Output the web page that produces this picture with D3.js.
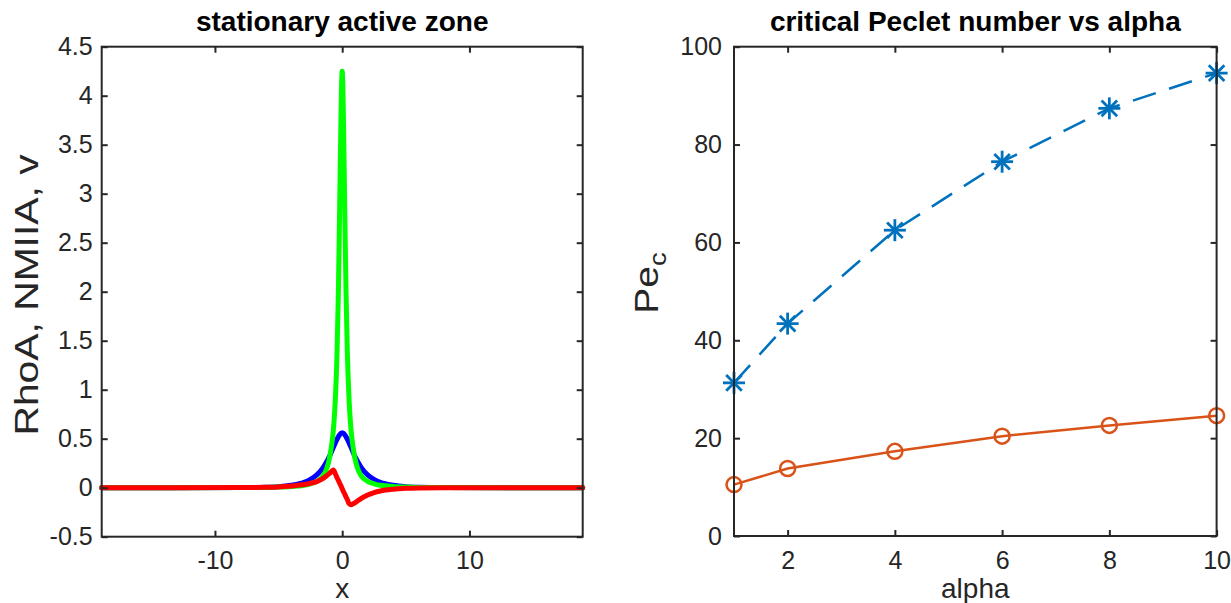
<!DOCTYPE html>
<html><head><meta charset="utf-8">
<script src="https://cdn.jsdelivr.net/npm/d3@7"></script>
<style>
html,body{margin:0;padding:0;background:#fff;}
svg{display:block;font-family:"Liberation Sans",Arial,sans-serif;}
</style></head>
<body>
<svg id="c" width="1231" height="603"></svg>
<script>
// ---- Left panel data: stationary active zone ----
const xs = [-18.9, -8, -6, -5, -4, -3, -2.5, -2, -1.5, -1.2, -1, -0.85, -0.7, -0.55, -0.4, -0.3, -0.2, -0.1, -0.05, 0, 0.05, 0.1, 0.2, 0.3, 0.4, 0.55, 0.7, 0.85, 1, 1.2, 1.5, 2, 2.5, 3, 4, 5, 6, 8, 18.9];
const rhoA = [0, 0.001, 0.005, 0.011, 0.025, 0.055, 0.085, 0.13, 0.205, 0.27, 0.32, 0.365, 0.41, 0.455, 0.495, 0.52, 0.54, 0.555, 0.558, 0.56, 0.558, 0.555, 0.54, 0.52, 0.495, 0.455, 0.41, 0.365, 0.32, 0.27, 0.205, 0.13, 0.085, 0.055, 0.025, 0.011, 0.005, 0.001, 0];
const nmiia = [0, 0.001, 0.003, 0.006, 0.012, 0.025, 0.04, 0.065, 0.12, 0.2, 0.3, 0.42, 0.58, 0.87, 1.4, 2.0, 2.85, 3.75, 4.1, 4.25, 4.1, 3.75, 2.85, 2.0, 1.4, 0.87, 0.58, 0.42, 0.3, 0.2, 0.12, 0.065, 0.04, 0.025, 0.012, 0.006, 0.003, 0.001, 0];
const vel = [0, 0.001, 0.004, 0.008, 0.018, 0.032, 0.045, 0.062, 0.095, 0.125, 0.145, 0.165, 0.18, 0.145, 0.10, 0.075, 0.045, 0.02, 0.005, -0.01, -0.025, -0.04, -0.065, -0.095, -0.12, -0.165, -0.175, -0.165, -0.155, -0.135, -0.11, -0.075, -0.05, -0.033, -0.015, -0.006, -0.002, 0, 0];
const leftXTicks = [-10, 0, 10];
const leftYTicks = [-0.5, 0, 0.5, 1, 1.5, 2, 2.5, 3, 3.5, 4, 4.5];

// ---- Right panel data: critical Peclet number vs alpha ----
const alphaVals = [1, 2, 4, 6, 8, 10];
const peStar = [31.3, 43.4, 62.5, 76.5, 87.4, 94.6];
const peCircle = [10.5, 13.8, 17.3, 20.4, 22.6, 24.6];
const rightXTicks = [2, 4, 6, 8, 10];
const rightYTicks = [0, 20, 40, 60, 80, 100];

const svg = d3.select("#c");
const AX = "#262626";
const tickFont = 25, labelFont = 28, ylabelFont = 34, titleFont = 28;

function frame(g, xs_, ys_, xTicks, yTicks, ypad) {
  const [x0, x1] = xs_.range(), [y1, y0] = ys_.range();
  const fmt = d => String(d);
  const xb = g.append("g").attr("transform", `translate(0,${y1})`)
    .call(d3.axisBottom(xs_).tickValues(xTicks).tickSizeInner(-6).tickSizeOuter(0).tickPadding(15).tickFormat(fmt));
  const xt = g.append("g").attr("transform", `translate(0,${y0})`)
    .call(d3.axisTop(xs_).tickValues(xTicks).tickSizeInner(-6).tickSizeOuter(0).tickFormat(""));
  const yl = g.append("g").attr("transform", `translate(${x0},0)`)
    .call(d3.axisLeft(ys_).tickValues(yTicks).tickSizeInner(-6).tickSizeOuter(0).tickPadding(ypad).tickFormat(fmt));
  const yr = g.append("g").attr("transform", `translate(${x1},0)`)
    .call(d3.axisRight(ys_).tickValues(yTicks).tickSizeInner(-6).tickSizeOuter(0).tickFormat(""));
  [xb, xt, yl, yr].forEach(a => {
    a.select(".domain").remove();
    a.selectAll("line").attr("stroke", AX).attr("stroke-width", 2);
    a.selectAll("text").attr("fill", AX).attr("font-size", tickFont).attr("font-family", "Liberation Sans, Arial, sans-serif");
  });
  xb.selectAll("text").attr("dy", "0.71em");
  g.append("rect").attr("x", x0).attr("y", y0).attr("width", x1 - x0).attr("height", y1 - y0)
    .attr("fill", "none").attr("stroke", AX).attr("stroke-width", 2);
}

// ===== Left panel =====
const xL = d3.scaleLinear([-18.9, 18.9], [101.7, 582.7]);
const yL = d3.scaleLinear([-0.5, 4.5], [536.7, 46.7]);
const gL = svg.append("g");
const lineL = vals => d3.line().x((d, i) => xL(xs[i])).y(d => yL(d)).curve(d3.curveMonotoneX)(vals);
const series = [[rhoA, "#0000ff"], [nmiia, "#00ff00"], [vel, "#ff0000"]];
series.forEach(([v, c]) => {
  gL.append("path").attr("d", lineL(v)).attr("fill", "none").attr("stroke", c)
    .attr("stroke-width", 5).attr("stroke-linejoin", "round").attr("stroke-linecap", "round");
});
frame(gL, xL, yL, leftXTicks, leftYTicks, 9);
gL.append("text").attr("x", 342.2).attr("y", 31).attr("text-anchor", "middle")
  .attr("font-weight", "bold").attr("font-size", titleFont).attr("fill", "#000").text("stationary active zone");
gL.append("text").attr("x", 342.2).attr("y", 598).attr("text-anchor", "middle")
  .attr("font-size", labelFont).attr("fill", AX).text("x");
gL.append("text").attr("transform", `translate(38,295) rotate(-90) scale(1.2,1)`).attr("text-anchor", "middle")
  .attr("font-size", ylabelFont).attr("fill", AX).text("RhoA, NMIIA, v");

// ===== Right panel =====
const xR = d3.scaleLinear([1, 10], [734, 1216.6]);
const yR = d3.scaleLinear([0, 100], [536, 46.7]);
const gR = svg.append("g");
const lineR = vals => d3.line().x((d, i) => xR(alphaVals[i])).y(d => yR(d))(vals);
const BLUE = "#0072BD", ORANGE = "#D95319";
gR.append("path").attr("d", lineR(peStar)).attr("fill", "none").attr("stroke", BLUE)
  .attr("stroke-width", 2.5).attr("stroke-dasharray", "24,14");
gR.append("path").attr("d", lineR(peCircle)).attr("fill", "none").attr("stroke", ORANGE)
  .attr("stroke-width", 2.5);
// asterisk markers
const star = gR.append("g");
alphaVals.forEach((a, i) => {
  const cx = xR(a), cy = yR(peStar[i]), r = 11, q = 7.8;
  const segs = [[-r, 0, r, 0], [0, -r, 0, r], [-q, -q, q, q], [-q, q, q, -q]];
  segs.forEach(s => star.append("line").attr("x1", cx + s[0]).attr("y1", cy + s[1]).attr("x2", cx + s[2]).attr("y2", cy + s[3])
    .attr("stroke", BLUE).attr("stroke-width", 2.8));
});
gR.append("g").selectAll("circle").data(peCircle).join("circle")
  .attr("cx", (d, i) => xR(alphaVals[i])).attr("cy", d => yR(d)).attr("r", 7.5)
  .attr("fill", "none").attr("stroke", ORANGE).attr("stroke-width", 2.5);
frame(gR, xR, yR, rightXTicks, rightYTicks, 12);
gR.append("text").attr("x", 975.3).attr("y", 31).attr("text-anchor", "middle")
  .attr("font-weight", "bold").attr("font-size", titleFont).attr("fill", "#000").text("critical Peclet number vs alpha");
gR.append("text").attr("x", 975.3).attr("y", 598).attr("text-anchor", "middle")
  .attr("font-size", labelFont).attr("fill", AX).text("alpha");
const pe = gR.append("text").attr("transform", `translate(658,283) rotate(-90) scale(1.15,1)`).attr("text-anchor", "middle")
  .attr("font-size", ylabelFont).attr("fill", AX);
pe.append("tspan").text("Pe");
pe.append("tspan").attr("dy", 8).attr("font-size", 24).text("c");
</script>
</body></html>
